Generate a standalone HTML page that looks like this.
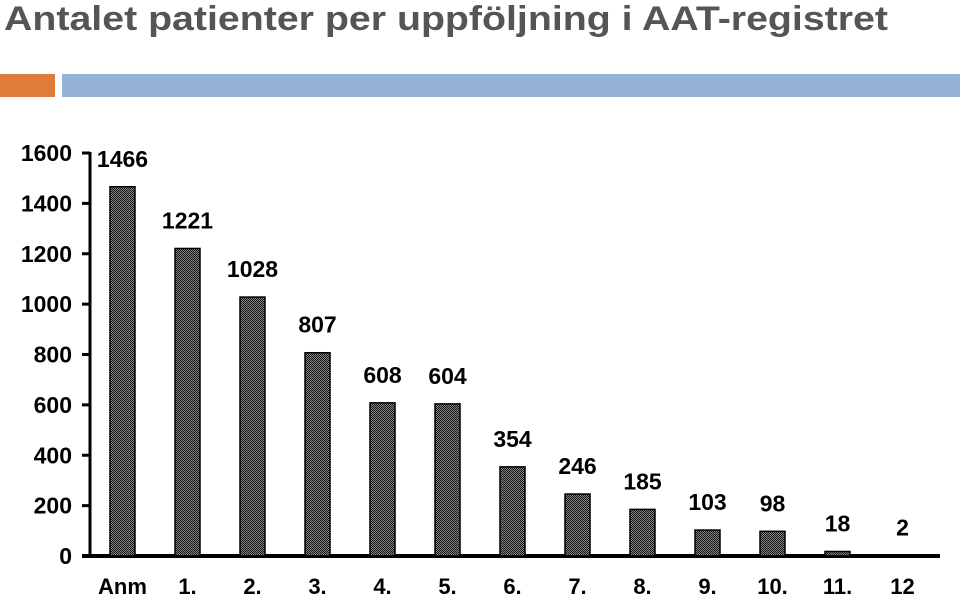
<!DOCTYPE html>
<html><head><meta charset="utf-8"><style>
body{margin:0;width:960px;height:595px;background:#fff;overflow:hidden;font-family:"Liberation Sans",Arial,sans-serif}
</style></head><body>
<svg width="960" height="595" xmlns="http://www.w3.org/2000/svg">
<defs>
<pattern id="chk" width="2" height="2" patternUnits="userSpaceOnUse">
<rect width="2" height="2" fill="#888"/><rect width="1" height="1" fill="#111"/><rect x="1" y="1" width="1" height="1" fill="#111"/>
</pattern>
</defs>
<text x="4" y="30" font-size="34" font-weight="bold" fill="#555" textLength="884" lengthAdjust="spacingAndGlyphs">Antalet patienter per uppföljning i AAT-registret</text>
<rect x="0" y="74" width="55" height="23" fill="#e07b3c"/>
<rect x="62" y="74" width="898" height="23" fill="#95b3d7"/>
<g id="axes"></g>
<g id="bars"></g>
</svg>
<script>
const categories=["Anm","1.","2.","3.","4.","5.","6.","7.","8.","9.","10.","11.","12"];
const values=[1466,1221,1028,807,608,604,354,246,185,103,98,18,2];
const yTicks=[0,200,400,600,800,1000,1200,1400,1600];
const NS="http://www.w3.org/2000/svg";
const x0=90,x1=935,y0=556,yTop=153,yMax=1600;
const step=(x1-x0)/categories.length;
const y=v=>y0-(v/yMax)*(y0-yTop);
const xc=i=>x0+step*(i+0.5);
function mk(tag,attrs,parent){const e=document.createElementNS(NS,tag);for(const k in attrs)e.setAttribute(k,attrs[k]);parent.appendChild(e);return e;}
const ax=document.getElementById('axes'),bg=document.getElementById('bars');
let l=mk('line',{x1:x0,y1:yTop-1,x2:x0,y2:y0+2,stroke:'#000','stroke-width':3},ax);


l=mk('line',{x1:82,y1:y0,x2:940,y2:y0,stroke:'#000','stroke-width':4},ax);


yTicks.forEach(t=>{
 const tk=mk('line',{x1:82,y1:y(t),x2:x0,y2:y(t),stroke:'#000','stroke-width':3},ax);
 
 
 const tx=mk('text',{x:72,y:y(t)+8,'text-anchor':'end','font-size':23,'font-weight':'bold'},ax);
 tx.textContent=t;
 
 
});
categories.forEach((c,i)=>{
 const tx=mk('text',{x:xc(i),y:594,'text-anchor':'middle','font-size':22,'font-weight':'bold'},ax);
 tx.textContent=c;
 
 
 const v=values[i];
 const r=mk('rect',{x:xc(i)-12.5,y:y(v),width:25,height:y0-y(v),fill:'url(#chk)',stroke:'#000','stroke-width':1.5},bg);
 
 
 const vl=mk('text',{x:xc(i),y:y(v)-20,'text-anchor':'middle','font-size':23,'font-weight':'bold'},bg);
 vl.textContent=v;
 
 
});
</script>
</body></html>
